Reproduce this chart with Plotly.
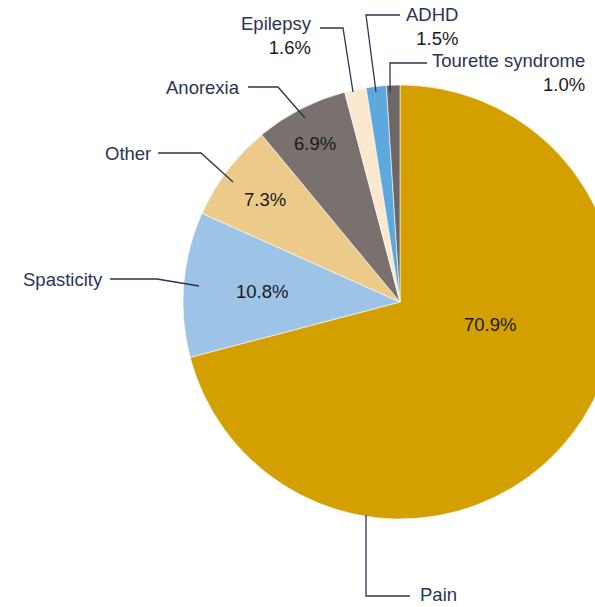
import plotly.graph_objects as go

labels = ["Pain", "Spasticity", "Other", "Anorexia", "Epilepsy", "ADHD", "Tourette syndrome"]
values = [70.9, 10.8, 7.3, 6.9, 1.6, 1.5, 1.0]
colors = ["#D4A000", "#9DC3E6", "#ECCB8A", "#78716E", "#FBE8CE", "#5DA8DD", "#6E6664"]

W, H = 640, 607

def px(x):
    return x / W

def py(y):
    return 1 - y / H

fig = go.Figure(go.Pie(
    labels=labels, values=values, sort=False, direction="clockwise", rotation=0,
    marker=dict(colors=colors, line=dict(color="#FFFFFF", width=0.6)),
    textinfo="none", hoverinfo="label+percent", showlegend=False,
    domain=dict(x=[px(183), px(617)], y=[py(519), py(85)]),
))

label_font = dict(family="Liberation Sans, Arial, sans-serif", size=18.5, color="#2B3452")
pct_font = dict(family="Liberation Sans, Arial, sans-serif", size=18.5, color="#1A1A1A")

# inside percentage labels
inside = {"Pain": (490, 325), "Spasticity": (262, 291), "Other": (265, 200), "Anorexia": (315, 144)}
anns = []
for lab, val in zip(labels, values):
    if lab in inside:
        x, y = inside[lab]
        anns.append(dict(x=px(x), y=py(y), xref="paper", yref="paper", text=f"{val:.1f}%",
                         showarrow=False, font=pct_font, xanchor="center", yanchor="middle"))

# outside labels: (text x, text y, anchor, two-line?)
outside = {
    "Pain": (419, 594, "left", False),
    "Spasticity": (104, 279, "right", False),
    "Other": (152, 153, "right", False),
    "Anorexia": (241, 87, "right", False),
    "Epilepsy": (313, 35, "right", True),
    "ADHD": (459, 26, "right", True),
    "Tourette syndrome": (586, 73, "right", True),
}
for lab, val in zip(labels, values):
    x, y, anc, two = outside[lab]
    if two:
        text = f"{lab}<br><span style='color:#1A1A1A'>{val:.1f}%</span>"
    else:
        text = lab
    anns.append(dict(x=px(x), y=py(y), xref="paper", yref="paper", text=text, align="right" if anc == "right" else "left",
                     showarrow=False, font=label_font, xanchor=anc, yanchor="middle", borderpad=0))

# leader lines
leaders = {
    "Pain": [(410, 596), (366, 596), (366, 515)],
    "Spasticity": [(110, 279), (157, 279), (199, 286)],
    "Other": [(158, 153), (201, 153), (233, 182)],
    "Anorexia": [(248, 87), (278, 87), (305, 118)],
    "Epilepsy": [(320, 28), (343, 28), (353, 92)],
    "ADHD": [(400, 15), (366, 15), (376, 92)],
    "Tourette syndrome": [(427, 63), (390, 63), (390, 92)],
}
shapes = []
for lab in labels:
    pts = leaders[lab]
    path = "M " + " L ".join(f"{px(x):.5f},{py(y):.5f}" for x, y in pts)
    shapes.append(dict(type="path", path=path, xref="paper", yref="paper",
                       line=dict(color="#2B3452", width=1.3)))

fig.update_layout(
    width=W, height=H, margin=dict(l=0, r=0, t=0, b=0),
    paper_bgcolor="white", plot_bgcolor="white",
    annotations=anns, shapes=shapes,
)

fig.write_html("out.html", config={"displayModeBar": False},
               post_script="document.documentElement.style.overflow='hidden';document.body.style.overflow='hidden';document.body.style.margin='0';")
